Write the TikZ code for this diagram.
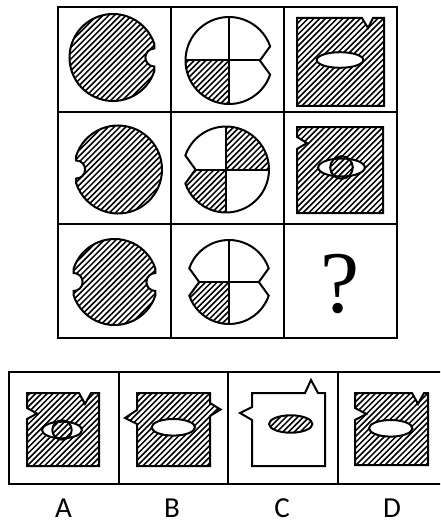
\documentclass[tikz,border=0pt]{standalone}
\usepackage{fontspec}
\newfontfamily\labfont{Carlito}
\newfontfamily\qmfont{Liberation Serif}
\newcommand\pBiteR[1]{(18:#1) arc[start angle=18,end angle=342,radius=#1] -- ({#1*cos(18)},-9) arc[start angle=270,end angle=90,radius=9] -- cycle}
\newcommand\pBiteL[1]{(198:#1) arc[start angle=198,end angle=522,radius=#1] -- ({-#1*cos(18)},9) arc[start angle=90,end angle=-90,radius=9] -- cycle}
\newcommand\pBiteB[1]{(18:#1) arc[start angle=18,end angle=162,radius=#1] -- ({-#1*cos(18)},9) arc[start angle=90,end angle=-90,radius=9] -- (198:#1) arc[start angle=198,end angle=342,radius=#1] -- ({#1*cos(18)},-9) arc[start angle=270,end angle=90,radius=9] -- cycle}
\newcommand\pVeeR[1]{(19:#1) arc[start angle=19,end angle=341,radius=#1] -- ({0.71*#1},0) -- cycle}
\newcommand\pVeeL[1]{(199:#1) arc[start angle=199,end angle=521,radius=#1] -- ({-0.71*#1},0) -- cycle}
\newcommand\pVeeB[1]{(19:#1) arc[start angle=19,end angle=161,radius=#1] -- ({-0.71*#1},0) -- (199:#1) arc[start angle=199,end angle=341,radius=#1] -- ({0.71*#1},0) -- cycle}
\newcommand\myhatch[2]{\foreach \k in {-19,...,19}{\draw[hatchline] ({#1+5.8*\k-70},{#2+70}) -- ++(140,-140);}}
\begin{document}
\begin{tikzpicture}[x=1pt,y=-1pt,
  outl/.style={line width=2pt,line join=miter},
  gridline/.style={line width=2pt},
  hatchline/.style={line width=1.5pt},
  lab/.style={font=\labfont\fontsize{29}{29}\selectfont,anchor=base,inner sep=0pt},
  qm/.style={font=\qmfont\fontsize{88}{88}\selectfont,inner sep=0pt}]
\useasboundingbox (0,0) rectangle (440,524);
\clip (0,0) rectangle (440,524);
\fill[white] (0,0) rectangle (440,524);

% grid
\draw[gridline] (58,7) rectangle (397,338);
\draw[gridline] (171,7) -- (171,338) (284,7) -- (284,338) (58,112) -- (397,112) (58,224) -- (397,224);

% column 1: bitten circles
\begin{scope}[shift={(113,57.5)}]
  \begin{scope}\clip \pBiteR{43.5}; \myhatch{0}{0} \end{scope}
  \draw[outl] \pBiteR{43.5};
\end{scope}
\begin{scope}[shift={(118,169.5)}]
  \begin{scope}\clip \pBiteL{44}; \myhatch{0}{0} \end{scope}
  \draw[outl] \pBiteL{44};
\end{scope}
\begin{scope}[shift={(114.5,282)}]
  \begin{scope}\clip \pBiteB{43}; \myhatch{0}{0} \end{scope}
  \draw[outl] \pBiteB{43};
\end{scope}

% column 2: quartered circles
\begin{scope}[shift={(229,60.5)}]
  \begin{scope}\clip \pVeeR{43.5}; \clip (-60,0) rectangle (0,60); \myhatch{0}{0} \end{scope}
  \draw[outl] \pVeeR{43.5};
  \draw[outl] (-43.5,0) -- ({0.71*43.5},0) (0,-43.5) -- (0,43.5);
\end{scope}
\begin{scope}[shift={(226,169.5)}]
  \begin{scope}\clip \pVeeL{43}; \clip (-60,0) rectangle (0,60); \myhatch{0}{0} \end{scope}
  \begin{scope}\clip \pVeeL{43}; \clip (0,-60) rectangle (60,0); \myhatch{0}{0} \end{scope}
  \draw[outl] \pVeeL{43};
  \draw[outl] ({-0.71*43},0) -- (43,0) (0,-43) -- (0,43);
\end{scope}
\begin{scope}[shift={(229,282)}]
  \begin{scope}\clip \pVeeB{42}; \clip (-60,0) rectangle (0,60); \myhatch{0}{0} \end{scope}
  \draw[outl] \pVeeB{42};
  \draw[outl] ({-0.71*42},0) -- ({0.71*42},0) (0,-42) -- (0,42);
\end{scope}

% column 3: squares
\begin{scope}
  \clip (297,18) -- (362,18) -- (368,28) -- (373,18) -- (384,18) -- (384,106) -- (297,106) -- cycle;
  \myhatch{340}{62}
\end{scope}
\draw[outl] (297,18) -- (362,18) -- (368,28) -- (373,18) -- (384,18) -- (384,106) -- (297,106) -- cycle;
\draw[outl,fill=white] (340,60) ellipse [x radius=23.3,y radius=7.8];

\begin{scope}
  \clip (297,127) -- (383,127) -- (383,213) -- (297,213) -- (297,149) -- (307,143) -- (297,137) -- cycle;
  \myhatch{340}{170}
\end{scope}
\draw[outl] (297,127) -- (383,127) -- (383,213) -- (297,213) -- (297,149) -- (307,143) -- (297,137) -- cycle;
\fill[white] (341.5,167.5) ellipse [x radius=23.3,y radius=9];
\begin{scope}\clip (341.5,167.5) circle [radius=11.3]; \myhatch{341.5}{167.5} \end{scope}
\draw[outl] (341.5,167.5) circle [radius=11.3];
\draw[outl] (341.5,167.5) ellipse [x radius=23.3,y radius=9];

\node[qm] (q) at (340,284) {?};

% answer box
\draw[gridline] (9,372) rectangle (448,484);
\draw[gridline] (118.5,372) -- (118.5,484) (228,372) -- (228,484) (338,372) -- (338,484);

% A
\begin{scope}
  \clip (27,393) -- (79,393) -- (85,404) -- (91,393) -- (99,393) -- (99,466) -- (27,466) -- (27,419) -- (37,413.5) -- (27,408) -- cycle;
  \myhatch{63}{430}
\end{scope}
\draw[outl] (27,393) -- (79,393) -- (85,404) -- (91,393) -- (99,393) -- (99,466) -- (27,466) -- (27,419) -- (37,413.5) -- (27,408) -- cycle;
\fill[white] (62,430) ellipse [x radius=20,y radius=8.3];
\begin{scope}\clip (62,430) circle [radius=9.7]; \myhatch{62}{430} \end{scope}
\draw[outl] (62,430) circle [radius=9.7];
\draw[outl] (62,430) ellipse [x radius=20,y radius=8.3];

% B
\begin{scope}
  \clip (137,393) -- (210,393) -- (210,403) -- (220.5,409.5) -- (210,416) -- (210,466) -- (137,466) -- (137,424) -- (125,418) -- (137,410) -- cycle;
  \myhatch{173}{430}
\end{scope}
\draw[outl] (137,393) -- (210,393) -- (210,403) -- (220.5,409.5) -- (210,416) -- (210,466) -- (137,466) -- (137,424) -- (125,418) -- (137,410) -- cycle;
\draw[outl,fill=white] (173.3,427.3) ellipse [x radius=21.7,y radius=8.3];

% C
\draw[outl,fill=white] (252,393) -- (305,393) -- (311,380) -- (318,393) -- (325,393) -- (325,466) -- (252,466) -- (252,420) -- (240,413) -- (252,407) -- cycle;
\begin{scope}\clip (290.7,424) ellipse [x radius=21.7,y radius=8.7]; \myhatch{290.7}{424} \end{scope}
\draw[outl] (290.7,424) ellipse [x radius=21.7,y radius=8.7];

% D
\begin{scope}
  \clip (355,393) -- (412,393) -- (418,404) -- (424,393) -- (428,393) -- (428,465) -- (355,465) -- (355,420) -- (366.5,414) -- (355,408) -- cycle;
  \myhatch{391}{430}
\end{scope}
\draw[outl] (355,393) -- (412,393) -- (418,404) -- (424,393) -- (428,393) -- (428,465) -- (355,465) -- (355,420) -- (366.5,414) -- (355,408) -- cycle;
\draw[outl,fill=white] (390.7,428.3) ellipse [x radius=21.7,y radius=8.3];

% labels
\node[lab] (la) at (63.5,517.5) {A};
\node[lab] (lb) at (172,517.5) {B};
\node[lab] (lc) at (282,517.5) {C};
\node[lab] (ld) at (392,517.5) {D};
\end{tikzpicture}
\end{document}
